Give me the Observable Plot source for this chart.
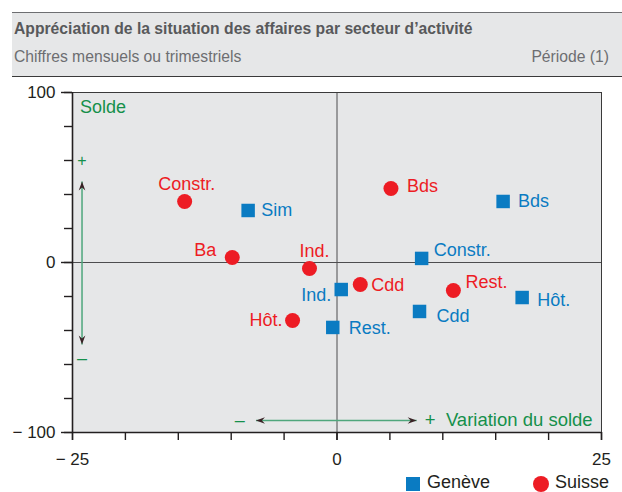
<!DOCTYPE html>
<html>
<head>
<meta charset="utf-8">
<script src="https://cdn.jsdelivr.net/npm/d3@7"></script>
<script src="https://cdn.jsdelivr.net/npm/@observablehq/plot@0.6"></script>
<style>
  body { margin: 0; background: #fff; font-family: "Liberation Sans", Arial, sans-serif; width: 622px; height: 492px; overflow: hidden; position: relative; }
  #header { margin: 12px 0 0 12px; background: #e6e7e8; border-top: 1.5px solid #6d6e71; border-bottom: 1.5px solid #3a3a3a; height: 63px; position: relative; }
  #title { position: absolute; left: 2px; top: 7px; font-weight: bold; font-size: 15.7px; color: #58595b; white-space: nowrap; }
  #subtitle { position: absolute; left: 2px; top: 35px; font-size: 15.7px; color: #6d6e71; white-space: nowrap; }
  #period { position: absolute; right: 13px; top: 35px; font-size: 15.7px; color: #6d6e71; }
  #legend { position: absolute; top: 472px; left: 0; width: 622px; height: 20px; font-size: 18px; color: #231f20; }
  .sw { position: absolute; top: 5px; width: 14px; height: 14px; }
  .lt { position: absolute; top: 0px; line-height: 20px; white-space: nowrap; }
</style>
</head>
<body>
<div id="header">
  <div id="title">Appréciation de la situation des affaires par secteur d’activité</div>
  <div id="subtitle">Chiffres mensuels ou trimestriels</div>
  <div id="period">Période (1)</div>
</div>
<div id="chart"></div>
<div id="legend">
  <div class="sw" style="left:406px;background:#0a7bc2"></div><div class="lt" style="left:427px">Genève</div>
  <div class="sw" style="left:533px;top:4px;width:16px;height:16px;border-radius:50%;background:#ed1c24"></div><div class="lt" style="left:555px">Suisse</div>
</div>
<script>
// ---- data ----
const series = ["Genève", "Suisse"];
const suisseSectors = ["Constr.", "Ba", "Ind.", "Bds", "Cdd", "Rest.", "Hôt."];
const suisseVariation = [-14.4, -9.9, -2.6, 5.1, 2.2, 11.0, -4.2];
const suisseSolde = [35.9, 2.9, -3.5, 43.5, -12.9, -16.5, -34.1];
const geneveSectors = ["Sim", "Bds", "Constr.", "Ind.", "Cdd", "Hôt.", "Rest."];
const geneveVariation = [-8.4, 15.7, 8.0, 0.4, 7.8, 17.5, -0.4];
const geneveSolde = [30.6, 35.9, 2.4, -15.9, -28.8, -20.6, -38.2];
const xTickLabels = [-25, 0, 25];
const yTickLabels = [-100, 0, 100];
const xMinorTicks = d3.range(-25, 26, 5);
const yMinorTicks = d3.range(-100, 101, 20);

// label placement: [anchor, dx, dy]
const suissePlacement = [["middle", 2, -17], ["end", -16, -7], ["middle", 5, -17], ["start", 16, -2], ["start", 11, 1], ["start", 12, -8], ["end", -10, 0]];
const genevePlacement = [["start", 13, 0], ["start", 15, 0], ["start", 12, -8], ["end", -10, 6], ["start", 17, 5], ["start", 15, 3], ["start", 16, 1]];

const colors = {"Genève": "#0a7bc2", "Suisse": "#ed1c24"};
const green = "#15904b";
const lineGreen = "#4fa67c";
const dark = "#3a2326";

const suisse = suisseSectors.map((s, i) => ({serie: "Suisse", sector: s, x: suisseVariation[i], y: suisseSolde[i], p: suissePlacement[i]}));
const geneve = geneveSectors.map((s, i) => ({serie: "Genève", sector: s, x: geneveVariation[i], y: geneveSolde[i], p: genevePlacement[i]}));

// annotation geometry (data coordinates)
const vArrow = {x: -24.1, y1: 47.6, y2: -48.2};
const hArrow = {y: -92.9, x1: -7.66, x2: 7.53};

// arrowhead symbols with tip at origin
function head(dir) {
  return {
    draw(context, size) {
      const L = 9, w = 3.3, n = 6;
      const pts = [[0, 0], [-w, L], [0, n], [w, L]];
      const rot = {up: 0, down: Math.PI, left: -Math.PI / 2, right: Math.PI / 2}[dir];
      const c = Math.cos(rot), s = Math.sin(rot);
      pts.forEach(([px, py], i) => {
        const X = px * c - py * s, Y = px * s + py * c;
        if (i === 0) context.moveTo(X, Y); else context.lineTo(X, Y);
      });
      context.closePath();
    }
  };
}

const fmt = d => d < 0 ? "− " + Math.abs(d) : String(d);

const labelMarks = [...suisse, ...geneve].map(d => Plot.text([d], {
  x: "x", y: "y", text: "sector", fill: colors[d.serie],
  textAnchor: d.p[0], dx: d.p[1], dy: d.p[2], fontSize: 18
}));

const chart = Plot.plot({
  width: 622, height: 394,
  marginLeft: 72, marginRight: 21, marginTop: 15, marginBottom: 39,
  x: {domain: [-25, 25], label: null},
  y: {domain: [-100, 100], label: null},
  style: {fontFamily: "'Liberation Sans', Arial, sans-serif", fontSize: "17px", color: "#231f20", background: "transparent"},
  marks: [
    Plot.frame({fill: "#e6e7e8", stroke: null}),
    Plot.ruleX([0], {stroke: "#4d4d4f", strokeWidth: 1}),
    Plot.ruleY([0], {stroke: "#4d4d4f", strokeWidth: 1}),
    Plot.frame({stroke: "#3a3a3a", strokeWidth: 1}),
    Plot.ruleX([-25], {stroke: "#231f20", strokeWidth: 1.6}),
    Plot.ruleY([-100], {stroke: "#231f20", strokeWidth: 1.6}),
    Plot.axisX(xMinorTicks, {tickSize: 8, tickFormat: () => "", stroke: "#231f20", strokeWidth: 1.4}),
    Plot.axisX(xTickLabels, {tickSize: 8, tickPadding: 12, tickFormat: fmt, stroke: "#231f20", strokeWidth: 1.4, fill: "#231f20"}),
    Plot.axisY(yMinorTicks, {tickSize: 8, tickFormat: () => "", stroke: "#231f20", strokeWidth: 1.4}),
    Plot.axisY(yTickLabels, {tickSize: 11, tickPadding: 6, tickFormat: fmt, stroke: "#231f20", strokeWidth: 1.4, fill: "#231f20"}),
    // annotations
    Plot.text(["Solde"], {x: -24.3, y: 91.2, textAnchor: "start", fill: green, fontSize: 18}),
    Plot.text(["+"], {x: vArrow.x, y: 60, fill: green, fontSize: 16}),
    Plot.text(["–"], {x: vArrow.x, y: -56.5, fill: green, fontSize: 18}),
    Plot.link([vArrow], {x1: "x", x2: "x", y1: "y1", y2: "y2", stroke: lineGreen, strokeWidth: 1.5}),
    Plot.dot([vArrow], {x: "x", y: "y1", symbol: head("up"), r: 5, fill: dark, stroke: null}),
    Plot.dot([vArrow], {x: "x", y: "y2", symbol: head("down"), r: 5, fill: dark, stroke: null}),
    Plot.link([hArrow], {x1: "x1", x2: "x2", y1: "y", y2: "y", stroke: lineGreen, strokeWidth: 1.5}),
    Plot.dot([hArrow], {x: "x1", y: "y", symbol: head("left"), r: 5, fill: dark, stroke: null}),
    Plot.dot([hArrow], {x: "x2", y: "y", symbol: head("right"), r: 5, fill: dark, stroke: null}),
    Plot.text(["–"], {x: -9.2, y: hArrow.y, fill: green, fontSize: 18}),
    Plot.text(["+  Variation du solde"], {x: 8.3, y: hArrow.y, textAnchor: "start", fill: green, fontSize: 18.5}),
    // data
    Plot.dot(suisse, {x: "x", y: "y", r: 7.5, fill: colors["Suisse"], symbol: "circle"}),
    Plot.dot(geneve, {x: "x", y: "y", r: 7.6, fill: colors["Genève"], symbol: "square"}),
    ...labelMarks
  ]
});
document.getElementById("chart").appendChild(chart);
</script>
</body>
</html>
